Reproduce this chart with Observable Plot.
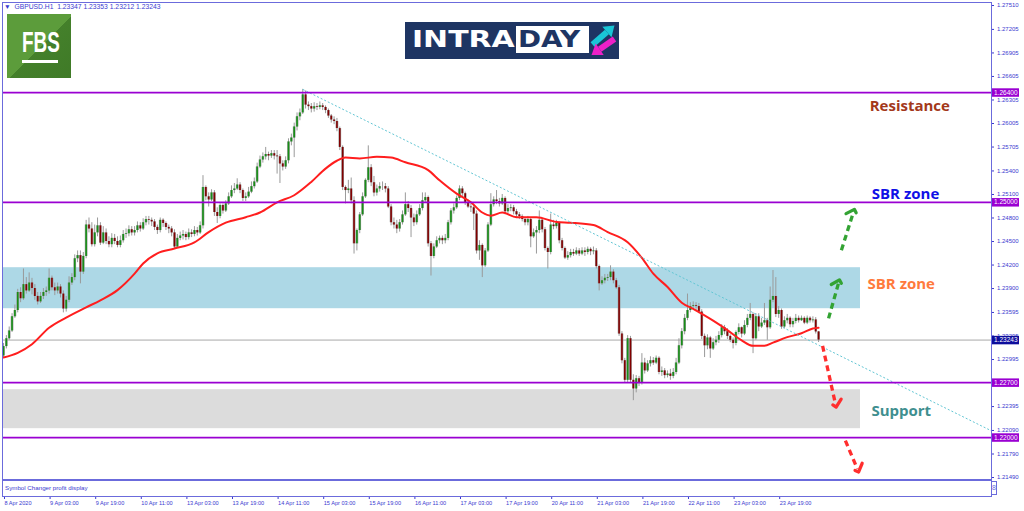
<!DOCTYPE html>
<html><head><meta charset="utf-8">
<script src="https://cdn.jsdelivr.net/npm/d3@7"></script>
<script src="https://cdn.jsdelivr.net/npm/@observablehq/plot@0.6"></script>
<style>
body{margin:0;background:#fff;}
#wrap{position:relative;width:1024px;height:511px;overflow:hidden;font-family:"Liberation Sans",Arial,sans-serif;}
#chart{position:absolute;left:0;top:0;}
.ov{position:absolute;}
</style></head><body>
<div id="wrap">
<div id="chart"></div>
<div class="ov" style="left:4px;top:2px;font-size:6.75px;line-height:9px;color:#3a3ad0;white-space:pre">▼  GBPUSD.H1  1.23347 1.23353 1.23212 1.23243</div>
<div class="ov" style="left:7px;top:14px;width:64px;height:64px;overflow:hidden;background:linear-gradient(135deg,#5c9c3b 0%,#5c9c3b 52%,#44802b 52%,#3f7a27 100%);">
  <div style="position:absolute;left:15px;top:14px;font:bold 29px 'Liberation Sans',Arial;color:#fff;line-height:1;transform:scaleX(0.65);transform-origin:left top;">FBS</div>
  <div style="position:absolute;left:15px;top:46px;width:36px;height:3px;background:#fff"></div>
</div>
<div class="ov" style="left:405px;top:22px;width:214px;height:37px;background:#1e3563;">
  <div style="position:absolute;left:7px;top:6px;font:bold 23px 'DejaVu Sans';color:#fff;line-height:1;transform:scaleX(1.3);transform-origin:left top;">INTRA</div>
  <div style="position:absolute;left:111px;top:4px;width:73px;height:27px;background:#fff"></div>
  <div style="position:absolute;left:113px;top:6px;font:bold 23px 'DejaVu Sans';color:#1e3563;line-height:1;transform:scaleX(1.21);transform-origin:left top;">DAY</div>
  <div style="position:absolute;left:183.5px;top:5.5px;width:29px;height:14px;transform:rotate(-40.8deg);">
    <div style="position:absolute;left:0;top:4px;width:19px;height:6px;background:#19c6d6"></div>
    <div style="position:absolute;left:19px;top:0;width:0;height:0;border-top:7px solid transparent;border-bottom:7px solid transparent;border-left:10px solid #19c6d6"></div>
  </div>
  <div style="position:absolute;left:183.5px;top:18px;width:28px;height:14px;transform:rotate(145.2deg);">
    <div style="position:absolute;left:0;top:4px;width:18px;height:6px;background:#ec20c8"></div>
    <div style="position:absolute;left:18px;top:0;width:0;height:0;border-top:7px solid transparent;border-bottom:7px solid transparent;border-left:10px solid #ec20c8"></div>
  </div>
</div>
<div class="ov" style="left:2px;top:479px;width:989px;height:17px;box-sizing:border-box;border-top:2px solid #6b6bdc;border-left:1px solid #6b6bdc;background:#fff;font-size:6.2px;color:#3a3ad0;padding-left:2px;line-height:14px;">Symbol Changer profit display</div>
<div class="ov" style="left:991px;top:481px;width:6px;height:14px;box-sizing:border-box;border:1px solid #6b6bdc;font-size:7px;line-height:12px;color:#6b6bdc;text-align:center">8</div>
</div>
<script>
// ---- OHLC data (hourly bars, GBPUSD H1, 8 Apr 2020 -> 24 Apr 2020) ----
const open = [
1.2304,1.2316,1.2326,1.2336,1.2354,1.2362,1.2385,1.2377,1.2395,1.2387,
1.2397,1.2390,1.2380,1.2373,1.2380,1.2385,1.2387,1.2403,1.2391,1.2387,
1.2392,1.2383,1.2364,1.2375,1.2397,1.2404,1.2428,1.2432,1.2411,1.2431,
1.2471,1.2466,1.2446,1.2461,1.2470,1.2448,1.2461,1.2450,1.2446,1.2454,
1.2450,1.2445,1.2451,1.2459,1.2460,1.2465,1.2461,1.2464,1.2470,1.2466,
1.2474,1.2478,1.2477,1.2475,1.2468,1.2464,1.2477,1.2473,1.2468,1.2466,
1.2461,1.2443,1.2454,1.2457,1.2459,1.2455,1.2461,1.2459,1.2464,1.2461,
1.2470,1.2519,1.2507,1.2503,1.2512,1.2487,1.2482,1.2496,1.2489,1.2498,
1.2507,1.2515,1.2517,1.2522,1.2515,1.2505,1.2507,1.2513,1.2520,1.2526,
1.2545,1.2554,1.2558,1.2561,1.2559,1.2562,1.2559,1.2558,1.2549,1.2545,
1.2553,1.2577,1.2582,1.2596,1.2609,1.2614,1.2637,1.2624,1.2622,1.2619,
1.2622,1.2621,1.2623,1.2621,1.2617,1.2610,1.2605,1.2603,1.2594,1.2570,
1.2519,1.2515,1.2517,1.2502,1.2447,1.2464,1.2484,1.2507,1.2528,1.2544,
1.2525,1.2512,1.2517,1.2520,1.2520,1.2517,1.2494,1.2474,1.2471,1.2466,
1.2474,1.2484,1.2497,1.2492,1.2480,1.2474,1.2484,1.2492,1.2502,1.2506,
1.2447,1.2431,1.2443,1.2451,1.2454,1.2451,1.2454,1.2474,1.2489,1.2493,
1.2505,1.2517,1.2511,1.2499,1.2494,1.2493,1.2485,1.2438,1.2445,1.2419,
1.2438,1.2471,1.2497,1.2503,1.2501,1.2498,1.2505,1.2488,1.2492,1.2493,
1.2488,1.2484,1.2482,1.2478,1.2474,1.2478,1.2456,1.2461,1.2464,1.2477,
1.2465,1.2441,1.2436,1.2471,1.2469,1.2473,1.2451,1.2441,1.2429,1.2432,
1.2436,1.2434,1.2438,1.2434,1.2438,1.2436,1.2440,1.2437,1.2438,1.2418,
1.2396,1.2400,1.2403,1.2404,1.2411,1.2400,1.2391,1.2332,1.2298,1.2273,
1.2326,1.2273,1.2262,1.2275,1.2270,1.2295,1.2285,1.2294,1.2298,1.2295,
1.2301,1.2283,1.2285,1.2279,1.2281,1.2278,1.2283,1.2295,1.2317,1.2335,
1.2352,1.2362,1.2367,1.2368,1.2367,1.2360,1.2329,1.2317,1.2327,1.2313,
1.2321,1.2324,1.2330,1.2340,1.2335,1.2329,1.2324,1.2320,1.2334,1.2340,
1.2332,1.2343,1.2352,1.2357,1.2326,1.2354,1.2341,1.2346,1.2349,1.2340,
1.2375,1.2380,1.2357,1.2362,1.2341,1.2349,1.2352,1.2344,1.2348,1.2352,
1.2349,1.2352,1.2346,1.2352,1.2349,1.2350,1.23347];
const high = [
1.2320,1.2330,1.2341,1.2358,1.2369,1.2389,1.2391,1.2415,1.2404,1.2410,
1.2403,1.2395,1.2385,1.2385,1.2390,1.2392,1.2415,1.2406,1.2397,1.2397,
1.2395,1.2387,1.2380,1.2405,1.2409,1.2433,1.2438,1.2438,1.2436,1.2477,
1.2480,1.2474,1.2471,1.2480,1.2474,1.2469,1.2466,1.2456,1.2460,1.2459,
1.2456,1.2457,1.2464,1.2466,1.2470,1.2469,1.2469,1.2475,1.2474,1.2479,
1.2482,1.2482,1.2480,1.2478,1.2471,1.2480,1.2479,1.2475,1.2471,1.2469,
1.2465,1.2459,1.2462,1.2464,1.2462,1.2466,1.2465,1.2469,1.2468,1.2475,
1.2534,1.2521,1.2512,1.2516,1.2515,1.2493,1.2498,1.2498,1.2502,1.2512,
1.2521,1.2524,1.2530,1.2525,1.2517,1.2512,1.2519,1.2526,1.2531,1.2550,
1.2559,1.2563,1.2570,1.2564,1.2566,1.2566,1.2566,1.2561,1.2553,1.2558,
1.2581,1.2587,1.2601,1.2614,1.2619,1.2644,1.2642,1.2628,1.2626,1.2627,
1.2626,1.2628,1.2626,1.2623,1.2619,1.2612,1.2609,1.2607,1.2596,1.2572,
1.2521,1.2528,1.2531,1.2507,1.2466,1.2487,1.2512,1.2530,1.2572,1.2548,
1.2533,1.2522,1.2525,1.2526,1.2524,1.2520,1.2497,1.2480,1.2477,1.2478,
1.2489,1.2512,1.2501,1.2496,1.2485,1.2489,1.2497,1.2512,1.2512,1.2508,
1.2450,1.2447,1.2456,1.2457,1.2457,1.2459,1.2477,1.2492,1.2498,1.2508,
1.2521,1.2520,1.2513,1.2503,1.2498,1.2496,1.2489,1.2451,1.2447,1.2441,
1.2474,1.2511,1.2507,1.2515,1.2505,1.2510,1.2507,1.2497,1.2497,1.2496,
1.2491,1.2487,1.2484,1.2480,1.2482,1.2480,1.2466,1.2469,1.2489,1.2479,
1.2468,1.2443,1.2485,1.2477,1.2477,1.2475,1.2454,1.2443,1.2437,1.2440,
1.2440,1.2442,1.2441,1.2442,1.2442,1.2443,1.2442,1.2443,1.2441,1.2420,
1.2405,1.2408,1.2408,1.2419,1.2414,1.2403,1.2394,1.2335,1.2301,1.2330,
1.2329,1.2280,1.2279,1.2278,1.2307,1.2301,1.2298,1.2303,1.2302,1.2304,
1.2303,1.2290,1.2288,1.2285,1.2287,1.2288,1.2301,1.2326,1.2339,1.2357,
1.2383,1.2372,1.2373,1.2372,1.2371,1.2363,1.2332,1.2331,1.2329,1.2326,
1.2329,1.2335,1.2344,1.2343,1.2339,1.2331,1.2327,1.2336,1.2345,1.2341,
1.2349,1.2357,1.2371,1.2359,1.2358,1.2358,1.2352,1.2371,1.2352,1.2392,
1.2413,1.2404,1.2367,1.2364,1.2354,1.2357,1.2354,1.2352,1.2357,1.2355,
1.2355,1.2354,1.2355,1.2354,1.2354,1.2353,1.23353];
const low = [
1.2301,1.2313,1.2324,1.2334,1.2352,1.2359,1.2372,1.2375,1.2383,1.2385,
1.2382,1.2375,1.2369,1.2371,1.2376,1.2380,1.2383,1.2387,1.2381,1.2383,
1.2378,1.2359,1.2360,1.2372,1.2394,1.2400,1.2423,1.2396,1.2408,1.2428,
1.2461,1.2443,1.2443,1.2456,1.2445,1.2446,1.2446,1.2442,1.2442,1.2446,
1.2442,1.2442,1.2448,1.2454,1.2456,1.2457,1.2457,1.2461,1.2462,1.2464,
1.2470,1.2471,1.2469,1.2464,1.2459,1.2461,1.2468,1.2464,1.2460,1.2456,
1.2441,1.2441,1.2451,1.2452,1.2451,1.2452,1.2455,1.2456,1.2457,1.2459,
1.2466,1.2502,1.2494,1.2501,1.2482,1.2473,1.2479,1.2485,1.2487,1.2496,
1.2505,1.2511,1.2515,1.2511,1.2501,1.2501,1.2505,1.2511,1.2517,1.2524,
1.2543,1.2550,1.2554,1.2553,1.2556,1.2554,1.2536,1.2524,1.2540,1.2542,
1.2549,1.2572,1.2557,1.2591,1.2604,1.2612,1.2619,1.2617,1.2614,1.2615,
1.2617,1.2618,1.2617,1.2613,1.2607,1.2601,1.2599,1.2590,1.2566,1.2515,
1.2498,1.2511,1.2498,1.2434,1.2438,1.2460,1.2482,1.2505,1.2525,1.2520,
1.2507,1.2508,1.2513,1.2515,1.2512,1.2492,1.2470,1.2466,1.2460,1.2462,
1.2471,1.2482,1.2487,1.2455,1.2469,1.2471,1.2482,1.2489,1.2499,1.2443,
1.2406,1.2428,1.2441,1.2447,1.2446,1.2447,1.2451,1.2471,1.2485,1.2491,
1.2502,1.2507,1.2496,1.2492,1.2487,1.2464,1.2434,1.2426,1.2404,1.2417,
1.2436,1.2469,1.2494,1.2497,1.2494,1.2496,1.2484,1.2485,1.2488,1.2484,
1.2480,1.2478,1.2475,1.2470,1.2470,1.2442,1.2454,1.2434,1.2460,1.2461,
1.2438,1.2415,1.2433,1.2465,1.2466,1.2447,1.2438,1.2427,1.2426,1.2429,
1.2431,1.2432,1.2431,1.2432,1.2431,1.2433,1.2432,1.2433,1.2415,1.2387,
1.2394,1.2396,1.2399,1.2400,1.2396,1.2389,1.2329,1.2294,1.2269,1.2270,
1.2269,1.2247,1.2257,1.2265,1.2267,1.2281,1.2283,1.2290,1.2292,1.2293,
1.2280,1.2278,1.2275,1.2276,1.2273,1.2275,1.2280,1.2293,1.2313,1.2331,
1.2349,1.2359,1.2363,1.2362,1.2358,1.2325,1.2302,1.2312,1.2301,1.2311,
1.2317,1.2320,1.2327,1.2331,1.2325,1.2321,1.2313,1.2317,1.2331,1.2327,
1.2330,1.2340,1.2349,1.2307,1.2324,1.2335,1.2339,1.2343,1.2324,1.2338,
1.2372,1.2353,1.2352,1.2338,1.2339,1.2345,1.2340,1.2340,1.2345,1.2346,
1.2348,1.2344,1.2344,1.2346,1.2346,1.2332,1.23212];
const close = [
1.2316,1.2326,1.2336,1.2354,1.2362,1.2385,1.2377,1.2395,1.2387,1.2397,
1.2390,1.2380,1.2373,1.2380,1.2385,1.2387,1.2403,1.2391,1.2387,1.2392,
1.2383,1.2364,1.2375,1.2397,1.2404,1.2428,1.2432,1.2411,1.2431,1.2471,
1.2466,1.2446,1.2461,1.2470,1.2448,1.2461,1.2450,1.2446,1.2454,1.2450,
1.2445,1.2451,1.2459,1.2460,1.2465,1.2461,1.2464,1.2470,1.2466,1.2474,
1.2478,1.2477,1.2475,1.2468,1.2464,1.2477,1.2473,1.2468,1.2466,1.2461,
1.2443,1.2454,1.2457,1.2459,1.2455,1.2461,1.2459,1.2464,1.2461,1.2470,
1.2519,1.2507,1.2503,1.2512,1.2487,1.2482,1.2496,1.2489,1.2498,1.2507,
1.2515,1.2517,1.2522,1.2515,1.2505,1.2507,1.2513,1.2520,1.2526,1.2545,
1.2554,1.2558,1.2561,1.2559,1.2562,1.2559,1.2558,1.2549,1.2545,1.2553,
1.2577,1.2582,1.2596,1.2609,1.2614,1.2637,1.2624,1.2622,1.2619,1.2622,
1.2621,1.2623,1.2621,1.2617,1.2610,1.2605,1.2603,1.2594,1.2570,1.2519,
1.2515,1.2517,1.2502,1.2447,1.2464,1.2484,1.2507,1.2528,1.2544,1.2525,
1.2512,1.2517,1.2520,1.2520,1.2517,1.2494,1.2474,1.2471,1.2466,1.2474,
1.2484,1.2497,1.2492,1.2480,1.2474,1.2484,1.2492,1.2502,1.2506,1.2447,
1.2431,1.2443,1.2451,1.2454,1.2451,1.2454,1.2474,1.2489,1.2493,1.2505,
1.2517,1.2511,1.2499,1.2494,1.2493,1.2485,1.2438,1.2445,1.2419,1.2438,
1.2471,1.2497,1.2503,1.2501,1.2498,1.2505,1.2488,1.2492,1.2493,1.2488,
1.2484,1.2482,1.2478,1.2474,1.2478,1.2456,1.2461,1.2464,1.2477,1.2465,
1.2441,1.2436,1.2471,1.2469,1.2473,1.2451,1.2441,1.2429,1.2432,1.2436,
1.2434,1.2438,1.2434,1.2438,1.2436,1.2440,1.2437,1.2438,1.2418,1.2396,
1.2400,1.2403,1.2404,1.2411,1.2400,1.2391,1.2332,1.2298,1.2273,1.2326,
1.2273,1.2262,1.2275,1.2270,1.2295,1.2285,1.2294,1.2298,1.2295,1.2301,
1.2283,1.2285,1.2279,1.2281,1.2278,1.2283,1.2295,1.2317,1.2335,1.2352,
1.2362,1.2367,1.2368,1.2367,1.2360,1.2329,1.2317,1.2327,1.2313,1.2321,
1.2324,1.2330,1.2340,1.2335,1.2329,1.2324,1.2320,1.2334,1.2340,1.2332,
1.2343,1.2352,1.2357,1.2326,1.2354,1.2341,1.2346,1.2349,1.2340,1.2375,
1.2380,1.2357,1.2362,1.2341,1.2349,1.2352,1.2344,1.2348,1.2352,1.2349,
1.2352,1.2346,1.2352,1.2349,1.2350,1.23347,1.23243];

// moving average (red line), read at selected bars
const maBar = [0,5,10,16,22,29,34,40,46,49,54,60,67,72,78,85,90,96,102,108,113,117,120,125,131,136,141,149,153,159,164,168,171,175,180,187,194,199,207,212,219,224,228,233,238,242,249,254,259,263,267,270,275,280,284,286];
const maVal = [1.2302,1.2308,1.2319,1.2340,1.2353,1.2366,1.2375,1.2388,1.2409,1.2422,1.2435,1.2441,1.2449,1.2462,1.2474,1.2481,1.2487,1.2500,1.2509,1.2526,1.2543,1.2553,1.2557,1.2556,1.2558,1.2557,1.2551,1.2541,1.2528,1.2511,1.2500,1.2487,1.2483,1.2487,1.2481,1.2481,1.2475,1.2474,1.2471,1.2462,1.2449,1.2429,1.2409,1.2392,1.2372,1.2364,1.2349,1.2337,1.2324,1.2317,1.2317,1.2321,1.2328,1.2333,1.2339,1.2340];

// horizontal levels and current price
const levels = [1.26400, 1.25000, 1.22700, 1.22000];
const currentPrice = 1.23243;

// zones
const zoneLow = [1.23643, 1.22113];
const zoneHigh = [1.24166, 1.22610];
const zoneEndBar = [300.7, 300.7];
const zoneFill = ["#add8e6", "#dcdcdc"];

// trend line (dotted)
const trendBar = [105, 346.67];
const trendPrice = [1.2644, 1.22085];

// scenario arrows
const arrowBar1 = [294.0, 289.5, 287.4, 295.4];
const arrowPrice1 = [1.2439, 1.2352, 1.2317, 1.2196];
const arrowBar2 = [298.2, 293.0, 291.9, 299.6];
const arrowPrice2 = [1.2487, 1.2397, 1.2243, 1.2160];
const arrowKind = ["up", "up", "down", "down"];

// annotations
const noteText = ["Resistance", "SBR zone", "SBR zone", "Support"];
const noteBar = [318, 316.5, 315, 315];
const notePrice = [1.2623, 1.2510, 1.2395, 1.2234];
const noteColor = ["#a3381a", "#1010e6", "#ff7a3d", "#3f8f8f"];

// axes
const yTicks = [1.27510,1.27205,1.26905,1.26605,1.26305,1.26005,1.25705,1.25400,1.25100,1.24800,1.24500,1.24200,1.23900,1.23595,1.23295,1.22995,1.22395,1.22090,1.21790,1.21490];
const xTickBars = [0,16,32,48,64,80,96,112,128,144,160,176,192,208,224,240,256,272];
const xTickLabels = ["8 Apr 2020","9 Apr 03:00","9 Apr 19:00","10 Apr 11:00","13 Apr 03:00","13 Apr 19:00","14 Apr 11:00","15 Apr 03:00","15 Apr 19:00","16 Apr 11:00","17 Apr 03:00","17 Apr 19:00","20 Apr 11:00","21 Apr 03:00","21 Apr 19:00","22 Apr 11:00","23 Apr 03:00","23 Apr 19:00"];

// ---- build tables ----
const candles = close.map((c, i) => ({i, o: open[i], h: high[i], l: low[i], c}));
const up = candles.filter(d => d.c >= d.o);
const down = candles.filter(d => d.c < d.o);
const ma = maBar.map((b, k) => ({b, v: maVal[k]}));
const zones = zoneLow.map((lo, k) => ({lo, hi: zoneHigh[k], end: zoneEndBar[k], fill: zoneFill[k]}));
const arrows = arrowBar1.map((b, k) => ({x1: b, y1: arrowPrice1[k], x2: arrowBar2[k], y2: arrowPrice2[k], kind: arrowKind[k]}));
const notes = noteText.map((t, k) => ({t, x: noteBar[k], y: notePrice[k], c: noteColor[k]}));
const xDomain = [-0.35, 346.67];

const frameColor = "#6b6bdc";
const axisColor = "#3a3ad0";
const purple = "#9a00d2";

const marks = [];
zones.forEach(z => marks.push(Plot.rect([z], {x1: xDomain[0], x2: "end", y1: "lo", y2: "hi", fill: z.fill})));
marks.push(Plot.ruleY([currentPrice], {stroke: "#a9a9a9", strokeWidth: 1}));
marks.push(Plot.ruleX(candles, {x: "i", y1: "l", y2: "h", stroke: "#9a9a9a", strokeWidth: 1}));
marks.push(Plot.ruleX(candles, {x: "i", y1: "o", y2: "c", stroke: "#9a9a9a", strokeWidth: 2.7}));
marks.push(Plot.ruleX(up, {x: "i", y1: "o", y2: "c", stroke: "#168f16", strokeWidth: 1.6}));
marks.push(Plot.ruleX(down, {x: "i", y1: "o", y2: "c", stroke: "#820000", strokeWidth: 1.6}));
marks.push(Plot.line(ma, {x: "b", y: "v", stroke: "#ff1e1e", strokeWidth: 2, curve: "monotone-x"}));
marks.push(Plot.link([{x1: trendBar[0], y1: trendPrice[0], x2: trendBar[1], y2: trendPrice[1]}], {x1: "x1", y1: "y1", x2: "x2", y2: "y2", stroke: "#63c6d4", strokeWidth: 1, strokeDasharray: "2,2"}));
marks.push(Plot.ruleY(levels, {stroke: purple, strokeWidth: 1.8}));
marks.push(Plot.link(arrows.filter(d => d.kind === "up"), {x1: "x1", y1: "y1", x2: "x2", y2: "y2", stroke: "#33a333", strokeWidth: 3.3, strokeDasharray: "6,4", markerEnd: "arrow"}));
marks.push(Plot.link(arrows.filter(d => d.kind === "down"), {x1: "x1", y1: "y1", x2: "x2", y2: "y2", stroke: "#ff2e2e", strokeWidth: 3.3, strokeDasharray: "6,4", markerEnd: "arrow"}));
notes.forEach(n => marks.push(Plot.text([n], {x: "x", y: "y", text: "t", fill: n.c, fontSize: 15, fontWeight: 700, fontFamily: "Open Sans"})));
marks.push(Plot.axisY({anchor: "right", ticks: yTicks, tickFormat: d => d.toFixed(5), tickSize: 2, tickPadding: 3.5, fontSize: 6}));
marks.push(Plot.axisX({anchor: "bottom", ticks: xTickBars, tickFormat: d => xTickLabels[xTickBars.indexOf(d)], tickSize: 3, tickPadding: 2, textAnchor: "start", dx: 1, fontSize: 5.6}));
marks.push(Plot.frame({stroke: frameColor}));
marks.push(Plot.ruleY(levels, {stroke: purple, strokeWidth: 8.5, insetLeft: 990, insetRight: -28}));
marks.push(Plot.text(levels, {y: d => d, text: d => d.toFixed(5), frameAnchor: "right", textAnchor: "start", dx: 2.5, fill: "white", fontSize: 6.5}));
marks.push(Plot.ruleY([currentPrice], {stroke: "#0d0d9c", strokeWidth: 8.5, insetLeft: 990, insetRight: -28}));
marks.push(Plot.text([currentPrice], {y: d => d, text: d => d.toFixed(5), frameAnchor: "right", textAnchor: "start", dx: 2.5, fill: "white", fontSize: 6.5}));

const chart = Plot.plot({
  width: 1024, height: 511,
  marginLeft: 2, marginRight: 33, marginTop: 2, marginBottom: 15,
  x: {domain: xDomain, axis: null},
  y: {domain: [1.214521, 1.275483], range: [480, 2], axis: null},
  style: {fontFamily: "Liberation Sans, Arial, sans-serif", color: axisColor, background: "white"},
  marks
});
document.getElementById("chart").appendChild(chart);
</script>
</body></html>
